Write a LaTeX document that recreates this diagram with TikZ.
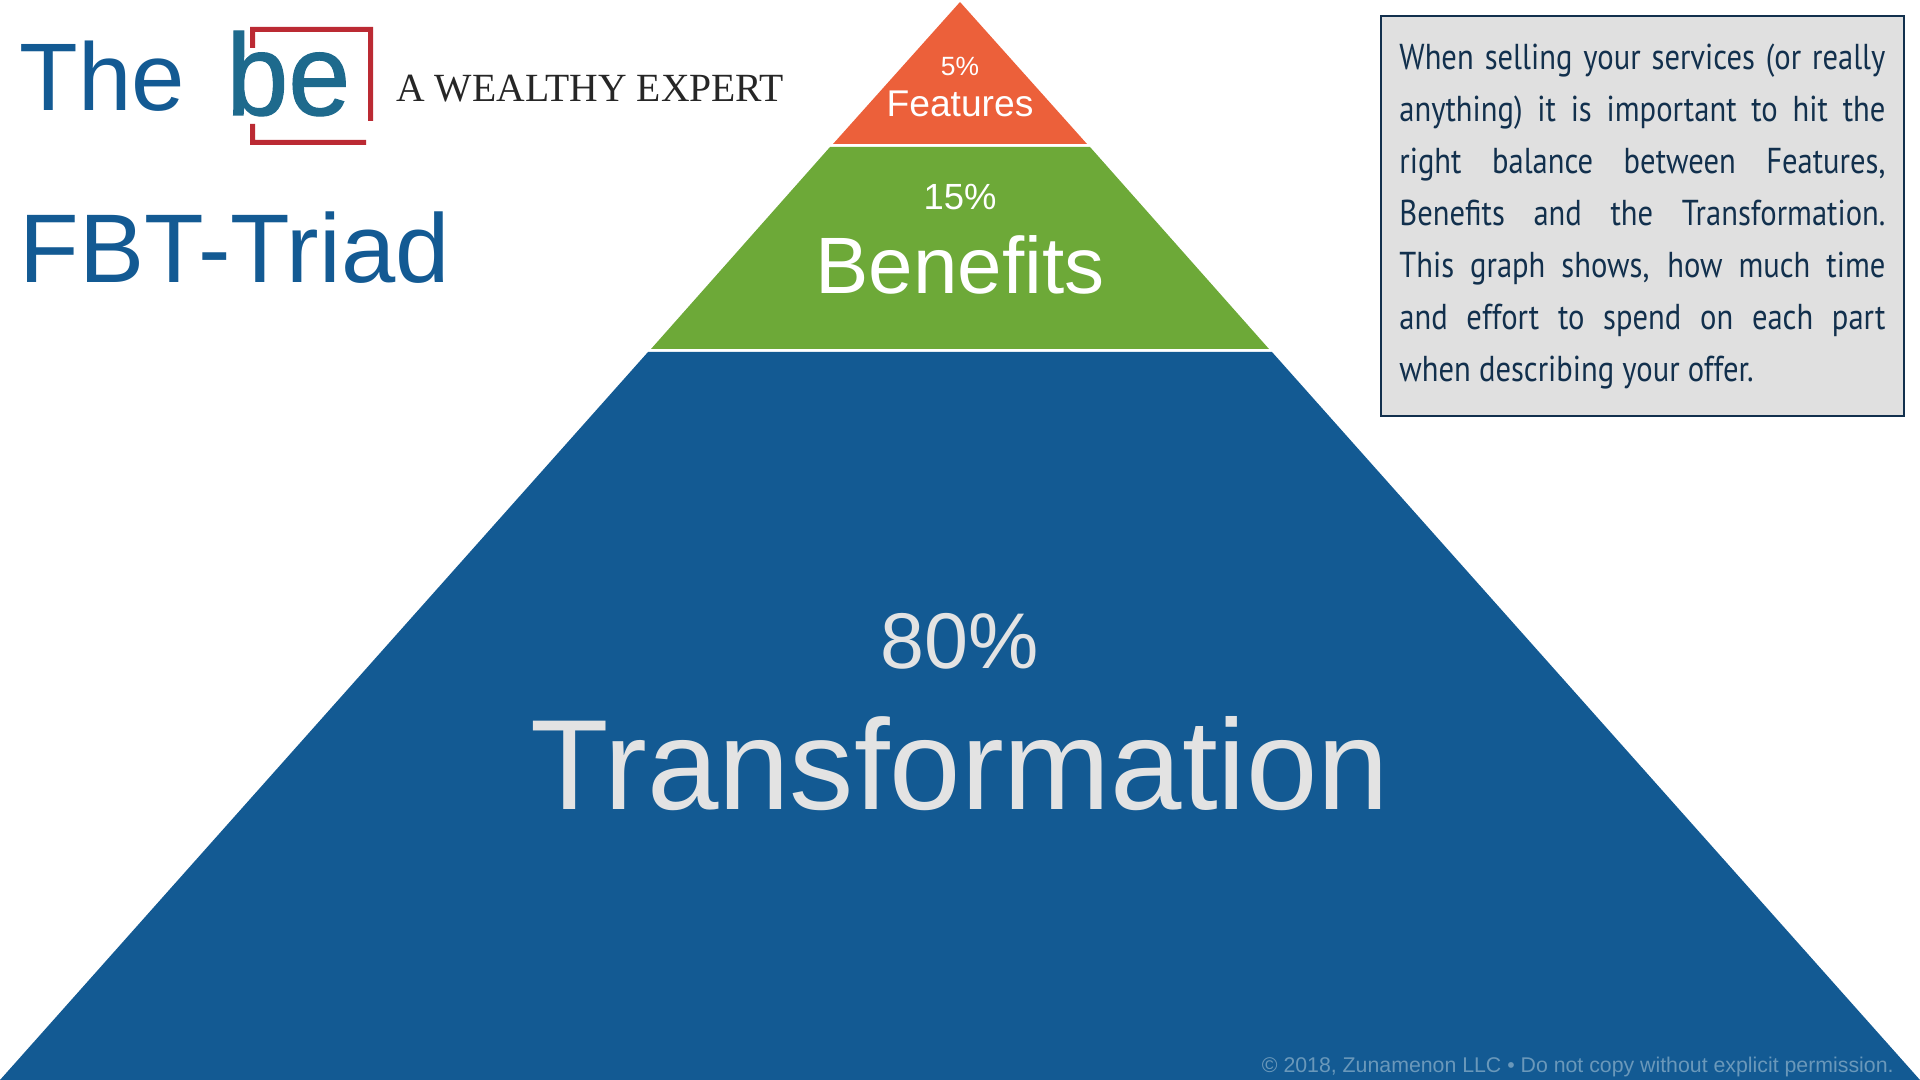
\documentclass[tikz,border=0pt]{standalone}
\usepackage{fontspec}
\setmainfont{Liberation Sans}
\newfontfamily\notefont[FakeStretch=0.85]{PT Sans}
\newfontfamily\claimfont[FakeStretch=0.99]{Liberation Serif}
\newfontfamily\logofont[FakeStretch=0.96,FakeBold=1]{Liberation Sans}
\definecolor{triadblue}{HTML}{135A93}
\definecolor{triadgreen}{HTML}{6DA938}
\definecolor{triadorange}{HTML}{EC603A}
\definecolor{logored}{HTML}{BB2A33}
\definecolor{logoteal}{HTML}{1E6A8D}
\definecolor{notenavy}{HTML}{12304D}
\definecolor{notegray}{HTML}{E0E0E0}
\definecolor{claimgray}{HTML}{E3E3E3}
\definecolor{markgray}{HTML}{6A98BA}
\tikzset{
	label text/.style={anchor=base, inner sep=0pt, text=white},
	title text/.style={anchor=base west, inner sep=0pt, text=triadblue, font=\fontsize{48}{48}\selectfont},
}
\begin{document}
\begin{tikzpicture}[x=0.5pt, y=-0.5pt, line join=miter]
	\useasboundingbox (0,0) rectangle (1920,1080);
	%%Three layers of the pyramid
	\fill[triadorange] (960,2)--(1087,144)--(833,144)--cycle;
	\fill[triadgreen] (830,147)--(1090,147)--(1269,349)--(651,349)--cycle;
	\fill[triadblue] (648,352)--(1272,352)--(1920,1080)--(0,1080)--cycle;
	%%Labels in the layers
	\node[label text, font=\fontsize{13.2}{14}\selectfont] (fivepct) at (960,76) {5\%};
	\node[label text, font=\fontsize{18.6}{18}\selectfont] (features) at (960,117) {Features};
	\node[label text, font=\fontsize{18.2}{20}\selectfont] (fifteenpct) at (960,210) {15\%};
	\node[label text, font=\fontsize{40}{40}\selectfont] (benefits) at (960,294) {Benefits};
	\node[label text, text=claimgray, font=\fontsize{39.5}{40}\selectfont] (eightypct) at (960,668) {80\%};
	\node[label text, text=claimgray, font=\fontsize{64.2}{64}\selectfont] (transformation) at (960,809) {Transformation};
	%%Title and logo
	\node[title text] (the) at (19,111) {The};
	\node[title text, text=logoteal, font=\logofont\fontsize{58}{58}\selectfont] (be) at (226,115) {be};
	\node[title text, font=\fontsize{48.8}{48}\selectfont] (triad) at (19,283) {FBT-Triad};
	\node[anchor=base west, inner sep=0pt, text=black!85, font=\claimfont\fontsize{20}{20}\selectfont] (expert) at (396,102) {A WEALTHY EXPERT};
	\fill[logored] (250,27)--(373,27)--(373,121)--(368,121)--(368,32)--(255,32)--(255,48)--(250,48)--cycle;
	\fill[logored] (250,124)--(255,124)--(255,140)--(366,140)--(366,145)--(250,145)--cycle;
	%%Note box
	\node[draw=notenavy, line width=1pt, fill=notegray, text=notenavy, minimum width=261.5pt, minimum height=200pt, inner sep=0pt] (note) at (1642.5,216) {};
	\node[anchor=base west, inner sep=0pt, text=notenavy, text width=243pt, align=justify, font=\notefont\fontsize{18}{26}\selectfont] (notetext) at (1399,70) {When selling your services (or really\linebreak anything) it is important to hit the\linebreak right balance between Features,\linebreak Benefits and the Transformation.\linebreak This graph shows, how much time\linebreak and effort to spend on each part\linebreak when describing your offer.};
	%%Copyright line
	\node[anchor=base east, inner sep=0pt, text=markgray, font=\fontsize{10.65}{10.5}\selectfont] (mark) at (1894,1072) {© 2018, Zunamenon LLC • Do not copy without explicit permission.};
\end{tikzpicture}
\end{document}
